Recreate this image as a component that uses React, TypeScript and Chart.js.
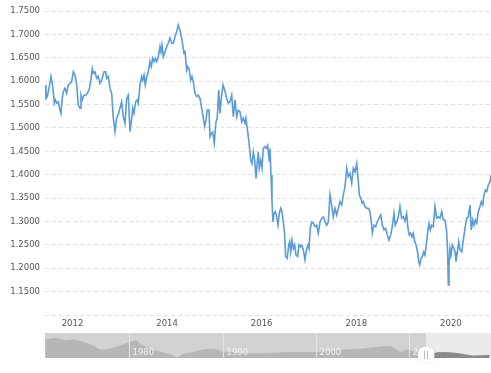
import React, { useEffect, useRef } from "react";
import { Chart, registerables } from "chart.js";

Chart.register(...registerables);

// ---------- main series (decimal year, GBP/USD rate) ----------
const years = [
  2011.419, 2011.44, 2011.467, 2011.51, 2011.545, 2011.567, 2011.594, 2011.615, 2011.636, 2011.666,
  2011.7, 2011.736, 2011.757, 2011.784, 2011.805, 2011.841, 2011.877, 2011.911, 2011.947, 2011.983,
  2012.017, 2012.053, 2012.089, 2012.123, 2012.159, 2012.18, 2012.207, 2012.243, 2012.279, 2012.313,
  2012.349, 2012.385, 2012.419, 2012.44, 2012.476, 2012.512, 2012.546, 2012.581, 2012.617, 2012.666,
  2012.702, 2012.723, 2012.757, 2012.793, 2012.829, 2012.863, 2012.899, 2012.934, 2012.968, 2013.004,
  2013.04, 2013.074, 2013.11, 2013.146, 2013.18, 2013.216, 2013.252, 2013.273, 2013.3, 2013.336,
  2013.37, 2013.391, 2013.427, 2013.463, 2013.484, 2013.512, 2013.539, 2013.569, 2013.603, 2013.638,
  2013.666, 2013.696, 2013.723, 2013.751, 2013.78, 2013.814, 2013.85, 2013.871, 2013.892, 2013.92,
  2013.956, 2013.992, 2014.026, 2014.061, 2014.097, 2014.131, 2014.167, 2014.203, 2014.236, 2014.272,
  2014.294, 2014.321, 2014.357, 2014.379, 2014.414, 2014.435, 2014.463, 2014.499, 2014.526, 2014.554,
  2014.59, 2014.626, 2014.66, 2014.696, 2014.732, 2014.766, 2014.795, 2014.823, 2014.85, 2014.886,
  2014.907, 2014.935, 2014.964, 2014.998, 2015.034, 2015.061, 2015.091, 2015.118, 2015.146, 2015.182,
  2015.224, 2015.26, 2015.294, 2015.33, 2015.366, 2015.4, 2015.436, 2015.471, 2015.505, 2015.541,
  2015.577, 2015.611, 2015.647, 2015.668, 2015.704, 2015.738, 2015.768, 2015.795, 2015.823, 2015.852,
  2015.88, 2015.907, 2015.928, 2015.949, 2015.979, 2016.007, 2016.034, 2016.064, 2016.091, 2016.127,
  2016.161, 2016.176, 2016.197, 2016.218, 2016.239, 2016.26, 2016.288, 2016.317, 2016.345, 2016.372,
  2016.402, 2016.429, 2016.457, 2016.486, 2016.507, 2016.541, 2016.571, 2016.592, 2016.613, 2016.641,
  2016.668, 2016.698, 2016.725, 2016.761, 2016.789, 2016.816, 2016.846, 2016.88, 2016.915, 2016.951,
  2016.979, 2017.0, 2017.028, 2017.057, 2017.091, 2017.127, 2017.163, 2017.197, 2017.233, 2017.269,
  2017.303, 2017.339, 2017.375, 2017.408, 2017.444, 2017.48, 2017.514, 2017.55, 2017.586, 2017.619,
  2017.655, 2017.691, 2017.726, 2017.761, 2017.797, 2017.831, 2017.867, 2017.903, 2017.937, 2017.973,
  2018.009, 2018.043, 2018.064, 2018.093, 2018.127, 2018.148, 2018.184, 2018.22, 2018.254, 2018.29,
  2018.318, 2018.338, 2018.374, 2018.41, 2018.444, 2018.48, 2018.516, 2018.55, 2018.586, 2018.621,
  2018.655, 2018.691, 2018.727, 2018.761, 2018.797, 2018.824, 2018.854, 2018.888, 2018.923, 2018.959,
  2018.993, 2019.029, 2019.065, 2019.093, 2019.121, 2019.15, 2019.178, 2019.205, 2019.235, 2019.262,
  2019.29, 2019.32, 2019.341, 2019.368, 2019.396, 2019.425, 2019.452, 2019.48, 2019.51, 2019.537,
  2019.565, 2019.594, 2019.628, 2019.664, 2019.7, 2019.734, 2019.77, 2019.806, 2019.84, 2019.875,
  2019.911, 2019.932, 2019.945, 2019.96, 2019.981, 2020.002, 2020.03, 2020.051, 2020.087, 2020.108,
  2020.136, 2020.165, 2020.193, 2020.229, 2020.263, 2020.298, 2020.334, 2020.368, 2020.404, 2020.431,
  2020.461, 2020.489, 2020.516, 2020.546, 2020.58, 2020.615, 2020.643, 2020.673, 2020.7, 2020.728,
  2020.757, 2020.791, 2020.827, 2020.848,
];

const rates = [
  1.592, 1.563, 1.567, 1.588, 1.61, 1.599, 1.577, 1.553, 1.56, 1.553,
  1.556, 1.538, 1.531, 1.563, 1.577, 1.585, 1.574, 1.592, 1.595, 1.599,
  1.62, 1.613, 1.592, 1.549, 1.542, 1.57, 1.56, 1.57, 1.57, 1.574,
  1.581, 1.599, 1.627, 1.617, 1.62, 1.606, 1.61, 1.595, 1.602, 1.62,
  1.62, 1.606, 1.61, 1.585, 1.574, 1.521, 1.492, 1.521, 1.528, 1.542,
  1.556, 1.524, 1.51, 1.563, 1.57, 1.492, 1.521, 1.542, 1.531, 1.556,
  1.56, 1.553, 1.592, 1.61, 1.602, 1.613, 1.592, 1.61, 1.62, 1.642,
  1.631, 1.649, 1.642, 1.649, 1.642, 1.652, 1.674, 1.663, 1.677, 1.652,
  1.663, 1.674, 1.681, 1.692, 1.681, 1.681, 1.695, 1.706, 1.72, 1.709,
  1.699, 1.684, 1.66, 1.663, 1.624, 1.631, 1.627, 1.602, 1.61, 1.599,
  1.574, 1.567, 1.57, 1.563, 1.542, 1.521, 1.503, 1.517, 1.538, 1.538,
  1.481, 1.488, 1.491, 1.467, 1.513, 1.521, 1.581, 1.531, 1.563, 1.592,
  1.579, 1.563, 1.553, 1.556, 1.57, 1.524, 1.56, 1.524, 1.538, 1.535,
  1.513, 1.521, 1.51, 1.521, 1.492, 1.463, 1.431, 1.424, 1.449, 1.431,
  1.392, 1.428, 1.449, 1.414, 1.431, 1.414, 1.456, 1.46, 1.456, 1.463,
  1.428, 1.456, 1.399, 1.342, 1.299, 1.317, 1.321, 1.31, 1.292, 1.317,
  1.328, 1.321, 1.299, 1.271, 1.225, 1.221, 1.25, 1.257, 1.235, 1.26,
  1.242, 1.25, 1.228, 1.225, 1.25, 1.246, 1.25, 1.239, 1.218, 1.242,
  1.25, 1.242, 1.285, 1.299, 1.296, 1.289, 1.292, 1.275, 1.299, 1.307,
  1.31, 1.299, 1.292, 1.299, 1.357, 1.335, 1.31, 1.328, 1.314, 1.328,
  1.342, 1.335, 1.357, 1.374, 1.414, 1.396, 1.403, 1.382, 1.414, 1.406,
  1.424, 1.385, 1.357, 1.35, 1.339, 1.342, 1.332, 1.328, 1.328, 1.321,
  1.299, 1.275, 1.292, 1.289, 1.299, 1.307, 1.314, 1.292, 1.282, 1.285,
  1.271, 1.26, 1.271, 1.289, 1.317, 1.292, 1.299, 1.31, 1.332, 1.307,
  1.31, 1.301, 1.317, 1.285, 1.271, 1.275, 1.267, 1.275, 1.257, 1.25,
  1.239, 1.214, 1.207, 1.221, 1.225, 1.235, 1.228, 1.25, 1.278, 1.296,
  1.282, 1.292, 1.289, 1.332, 1.307, 1.31, 1.307, 1.321, 1.303, 1.303,
  1.278, 1.235, 1.164, 1.207, 1.242, 1.228, 1.25, 1.246, 1.235, 1.214,
  1.232, 1.257, 1.239, 1.235, 1.26, 1.285, 1.307, 1.31, 1.335, 1.282,
  1.303, 1.292, 1.303, 1.296, 1.321, 1.332, 1.342, 1.335, 1.357, 1.367,
  1.364, 1.378, 1.385, 1.399,
];

const xTickYears = [2012, 2014, 2016, 2018, 2020];
const yTickValues = [1.1, 1.15, 1.2, 1.25, 1.3, 1.35, 1.4, 1.45, 1.5, 1.55, 1.6, 1.65, 1.7, 1.75];
const viewStart = 2011.419;
const viewEnd = 2020.848;

// ---------- navigator series ----------
const navYears = [
  1971.0, 1972.2, 1973.3, 1974.0, 1975.1, 1976.1, 1976.9, 1977.9, 1979.0, 1979.9,
  1980.8, 1981.1, 1982.2, 1983.3, 1984.7, 1985.1, 1985.8, 1986.9, 1987.9, 1989.0,
  1990.1, 1991.9, 1993.7, 1995.5, 1997.2, 1999.0, 2000.1, 2001.9, 2003.3, 2004.7,
  2006.1, 2007.9, 2008.6, 2009.1, 2009.7, 2010.7, 2011.8, 2013.2, 2015.0, 2016.8,
  2018.6,
];
const navRates = [
  2.49, 2.6, 2.41, 2.49, 2.28, 2.01, 1.69, 1.74, 2.01, 2.23,
  2.41, 2.15, 1.74, 1.53, 1.21, 1.05, 1.34, 1.48, 1.69, 1.74,
  1.53, 1.42, 1.37, 1.42, 1.48, 1.48, 1.48, 1.61, 1.69, 1.74,
  1.85, 1.96, 1.74, 1.48, 1.69, 1.48, 1.26, 1.48, 1.42, 1.21,
  1.26,
];
const navDecades = [1980, 1990, 2000, 2010];
const navStart = 1970.97;
const navEnd = 2018.76;
const navWindowStart = 2011.8;

const FONT = "'DejaVu Sans', Verdana, sans-serif";

const navPlugin = {
  id: "navDecor",
  beforeDatasetsDraw(chart: any) {
    const { ctx, chartArea: a, scales } = chart;
    const xs = scales.x.getPixelForValue(navWindowStart);
    ctx.save();
    ctx.fillStyle = "#d2d2d2";
    ctx.fillRect(a.left, a.top, xs - a.left, a.bottom - a.top);
    ctx.fillStyle = "#ebebeb";
    ctx.fillRect(xs, a.top, a.right - xs, a.bottom - a.top);
    ctx.restore();
  },
  afterDatasetsDraw(chart: any) {
    const { ctx, chartArea: a, scales } = chart;
    ctx.save();
    ctx.font = `8.5px ${FONT}`;
    ctx.textBaseline = "alphabetic";
    ctx.textAlign = "left";
    navDecades.forEach((d) => {
      const x = Math.round(scales.x.getPixelForValue(d)) + 0.5;
      ctx.strokeStyle = "#e4e4e4";
      ctx.lineWidth = 1;
      ctx.beginPath();
      ctx.moveTo(x, a.top);
      ctx.lineTo(x, a.bottom);
      ctx.stroke();
      ctx.fillStyle = "#f4f4f4";
      ctx.fillText(String(d), x + 3, a.bottom - 3);
    });
    // handle
    const xs = scales.x.getPixelForValue(navWindowStart);
    const cy = a.bottom - 3;
    ctx.beginPath();
    ctx.arc(xs, cy, 8.5, 0, Math.PI * 2);
    ctx.fillStyle = "#ffffff";
    ctx.shadowColor = "rgba(0,0,0,0.15)";
    ctx.shadowBlur = 2;
    ctx.fill();
    ctx.shadowBlur = 0;
    ctx.strokeStyle = "#bbbbbb";
    ctx.lineWidth = 1;
    ctx.beginPath();
    ctx.moveTo(Math.round(xs) - 1.5, cy - 4);
    ctx.lineTo(Math.round(xs) - 1.5, cy + 4);
    ctx.moveTo(Math.round(xs) + 1.5, cy - 4);
    ctx.lineTo(Math.round(xs) + 1.5, cy + 4);
    ctx.stroke();
    ctx.restore();
  },
};

export default function App() {
  const mainRef = useRef<HTMLCanvasElement>(null);
  const navRef = useRef<HTMLCanvasElement>(null);

  useEffect(() => {
    const mainChart = new Chart(mainRef.current as HTMLCanvasElement, {
      type: "line",
      data: {
        datasets: [
          {
            data: years.map((x, i) => ({ x, y: rates[i] })),
            borderColor: "#5b9bd8",
            borderWidth: 1.6,
            pointRadius: 0,
            tension: 0,
            fill: false,
          },
        ],
      },
      options: {
        animation: false,
        responsive: false,
        maintainAspectRatio: false,
        layout: { padding: { top: 11, right: 0, bottom: 0, left: 0 } },
        plugins: { legend: { display: false }, tooltip: { enabled: false } },
        scales: {
          x: {
            type: "linear",
            min: viewStart,
            max: viewEnd,
            afterBuildTicks: (s: any) => {
              s.ticks = xTickYears.map((v) => ({ value: v }));
            },
            afterFit: (s: any) => {
              s.height = 17;
            },
            ticks: {
              callback: (v: any) => String(v),
              font: { family: FONT, size: 8.5 },
              color: "#555555",
              padding: 4,
              maxRotation: 0,
              autoSkip: false,
            },
            grid: { display: false, drawTicks: false },
            border: { display: false },
          },
          y: {
            type: "linear",
            min: 1.1,
            max: 1.75,
            afterBuildTicks: (s: any) => {
              s.ticks = yTickValues.map((v) => ({ value: v }));
            },
            afterFit: (s: any) => {
              s.width = 45;
            },
            ticks: {
              callback: (v: any) => (v <= 1.1 + 1e-9 ? "" : Number(v).toFixed(4)),
              font: { family: FONT, size: 8.5 },
              color: "#555555",
              padding: 5,
            },
            grid: { color: "#e2e2e2", lineWidth: 1, drawTicks: false },
            border: { display: false, dash: [4, 3] },
          },
        },
      } as any,
    });

    const navChart = new Chart(navRef.current as HTMLCanvasElement, {
      type: "line",
      data: {
        datasets: [
          {
            data: navYears
              .map((x, i) => ({ x, y: navRates[i] }))
              .filter((p) => p.x <= navWindowStart),
            borderColor: "#b6b6b6",
            backgroundColor: "#b6b6b6",
            borderWidth: 1,
            pointRadius: 0,
            tension: 0.2,
            fill: "start",
          },
          {
            data: navYears
              .map((x, i) => ({ x, y: navRates[i] }))
              .filter((p) => p.x >= navWindowStart),
            borderColor: "#8a8a8a",
            backgroundColor: "#8a8a8a",
            borderWidth: 1,
            pointRadius: 0,
            tension: 0.2,
            fill: "start",
          },
        ],
      },
      options: {
        animation: false,
        responsive: false,
        maintainAspectRatio: false,
        layout: { padding: { top: 0, right: 0, bottom: 8, left: 0 } },
        plugins: { legend: { display: false }, tooltip: { enabled: false } },
        scales: {
          x: { type: "linear", display: false, min: navStart, max: navEnd },
          y: { type: "linear", display: false, min: 1.05, max: 3.03 },
        },
      } as any,
      plugins: [navPlugin],
    });

    return () => {
      mainChart.destroy();
      navChart.destroy();
    };
  }, []);

  return (
    <div style={{ position: "absolute", left: 0, top: 0, width: 491, height: 373, background: "#ffffff" }}>
      <canvas
        ref={mainRef}
        width={491}
        height={332}
        style={{ position: "absolute", left: 0, top: 0, width: 491, height: 332 }}
      />
      <canvas
        ref={navRef}
        width={446}
        height={33}
        style={{ position: "absolute", left: 45, top: 333, width: 446, height: 33 }}
      />
    </div>
  );
}
